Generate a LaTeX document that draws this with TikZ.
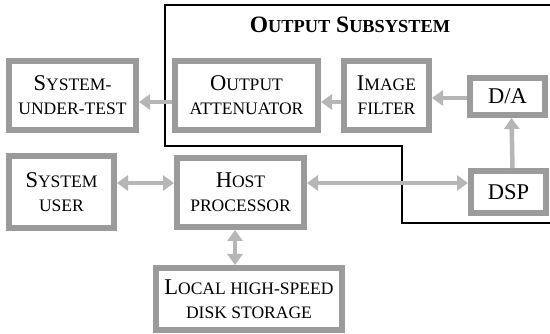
\documentclass[tikz,border=0pt]{standalone}
\usepackage{fontspec}
\setmainfont{Liberation Serif}
\newfontfamily\scfont[Scale=0.78]{Liberation Serif}
\newcommand\sck[1]{{\scfont #1}}
\usetikzlibrary{arrows.meta}
\definecolor{boxgray}{RGB}{155,155,155}
\definecolor{arrgray}{RGB}{182,182,182}
\begin{document}
\begin{tikzpicture}[x=1pt,y=-1pt,
  box/.style={draw=boxgray, line width=6pt, align=center, inner sep=0pt,
              font=\fontsize{22.5}{24}\selectfont},
  arr/.style={draw=arrgray, line width=4.5pt, -{Triangle[length=11pt,width=15pt]}},
  darr/.style={draw=arrgray, line width=4.5pt,
               {Triangle[length=11pt,width=15pt]}-{Triangle[length=11pt,width=15pt]}},
  frame/.style={line width=2pt, draw=black}]
\useasboundingbox (0,0) rectangle (550,334);

% output subsystem outline
\draw[frame] (552,223) -- (402,223) -- (402,146) -- (165,146) -- (165,5) -- (552,5);
\node[font=\fontsize{23.5}{25}\selectfont\bfseries, anchor=base] (title) at (350,33)
  {O\sck{UTPUT} S\sck{UBSYSTEM}};

% blocks
\node[box, minimum width=127pt, minimum height=69pt] (sut) at (72.5,95.5)
  {S\sck{YSTEM-}\\\sck{UNDER-TEST}};
\node[box, minimum width=143pt, minimum height=69pt] (oa) at (246.5,95.5)
  {O\sck{UTPUT}\\\sck{ATTENUATOR}};
\node[box, minimum width=85pt, minimum height=69pt] (imf) at (386.5,95.5)
  {I\sck{MAGE}\\\sck{FILTER}};
\node[box, minimum width=75pt, minimum height=37pt] (da) at (507.5,96.5) {D/A};
\node[box, minimum width=105pt, minimum height=72pt] (su) at (61.5,192)
  {S\sck{YSTEM}\\\sck{USER}};
\node[box, minimum width=127pt, minimum height=69pt] (hp) at (240.5,192.5)
  {H\sck{OST}\\\sck{PROCESSOR}};
\node[box, minimum width=75pt, minimum height=42pt] (dsp) at (508.5,192) {DSP};
\node[box, minimum width=186pt, minimum height=62pt] (ls) at (249,299)
  {L\sck{OCAL HIGH-SPEED}\\\sck{DISK STORAGE}};

% signal paths
\draw[arr] ([yshift=-6.5pt]oa.west) -- ([yshift=-6.5pt]sut.east);
\draw[arr] ([yshift=-6.5pt]imf.west) -- ([yshift=-6.5pt]oa.east);
\draw[arr] ([yshift=-1.5pt]da.west) -- ([yshift=-2.5pt]imf.east);
\draw[arr] ([xshift=4pt]dsp.north) -- ([xshift=4pt]da.south);
\draw[darr] ([yshift=9pt]su.east) -- ([yshift=9.5pt]hp.west);
\draw[darr] ([yshift=9.5pt]hp.east) -- ([yshift=9pt]dsp.west);
\draw[darr] ([xshift=-5.5pt]hp.south) -- ([xshift=-14pt]ls.north);
\end{tikzpicture}
\end{document}
